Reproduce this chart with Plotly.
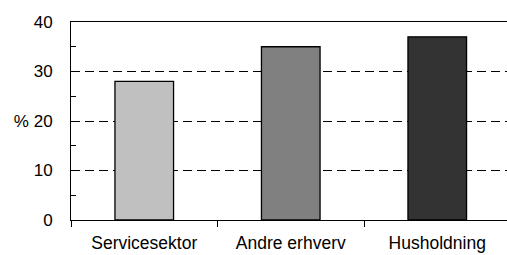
import plotly.graph_objects as go

categories = ["Servicesektor", "Andre erhverv", "Husholdning"]
values = [28, 35, 37]
bar_colors = ["#C0C0C0", "#808080", "#333333"]
y_tickvals = [0, 10, 20, 30, 40]
y_ticktext = ["0", "10", "% 20", "30", "40"]

fig = go.Figure()
fig.add_trace(go.Bar(
    x=categories, y=values,
    marker=dict(color=bar_colors, line=dict(color="black", width=1.3)),
    width=0.4,
    hoverinfo="skip",
))

fig.update_layout(
    width=507, height=255,
    margin=dict(l=71, r=0, t=22, b=35, autoexpand=False),
    paper_bgcolor="white", plot_bgcolor="white",
    font=dict(family="Liberation Sans, Arial, sans-serif", size=16, color="black"),
    showlegend=False,
    bargap=0.6,
)
fig.update_xaxes(
    range=[-0.5, 2.476],
    showline=True, linecolor="black", linewidth=1, mirror=True,
    ticks="outside", ticklen=6, tickcolor="black", tickson="boundaries",
    showgrid=False, zeroline=False,
    tickfont=dict(size=17.5),
    ticklabelstandoff=7,
    automargin=False,
)
fig.update_yaxes(
    range=[0, 40],
    tickvals=y_tickvals, ticktext=y_ticktext,
    showline=True, linecolor="black", linewidth=1,
    ticks="inside", ticklen=5, tickcolor="black",
    showgrid=True, gridcolor="black", gridwidth=1, griddash="9px,5px",
    zeroline=False,
    minor=dict(tickvals=[5, 15, 25, 35], ticks="inside", ticklen=5, tickcolor="black", showgrid=False),
    tickfont=dict(size=17),
    ticklabelstandoff=14,
    automargin=False,
)

fig.write_html(
    "out.html",
    config={"displayModeBar": False, "staticPlot": True},
    post_script="document.body.style.margin='0';document.body.style.overflow='hidden';",
)
